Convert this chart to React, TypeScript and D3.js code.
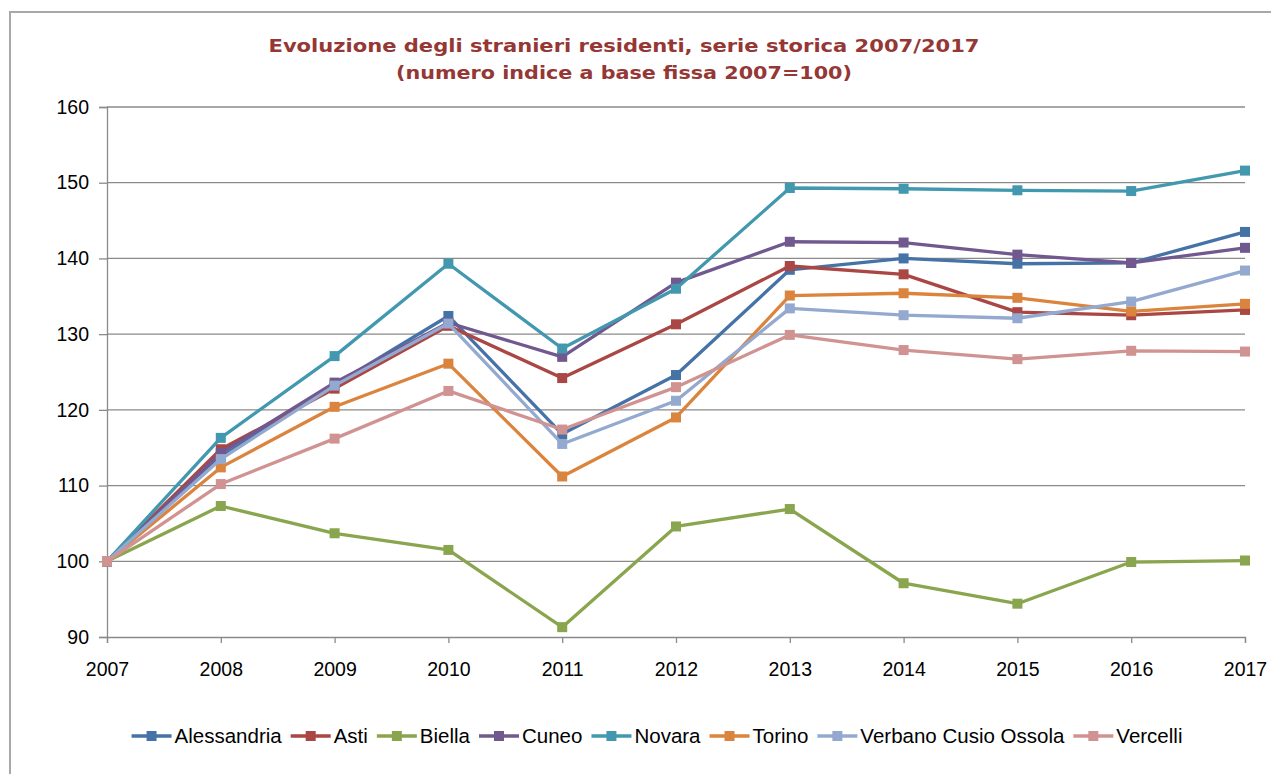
import { useEffect, useRef } from 'react'
import * as d3 from 'd3'

const years = [2007, 2008, 2009, 2010, 2011, 2012, 2013, 2014, 2015, 2016, 2017]
const yTicks = [90, 100, 110, 120, 130, 140, 150, 160]

const alessandria = [100, 113.8, 123.3, 132.4, 116.8, 124.6, 138.5, 140.0, 139.3, 139.4, 143.5]
const asti = [100, 114.8, 122.8, 131.1, 124.2, 131.3, 139.0, 137.9, 132.9, 132.5, 133.2]
const biella = [100, 107.3, 103.7, 101.5, 91.3, 104.6, 106.9, 97.1, 94.4, 99.9, 100.1]
const cuneo = [100, 114.3, 123.6, 131.5, 127.0, 136.8, 142.2, 142.1, 140.5, 139.4, 141.4]
const novara = [100, 116.3, 127.1, 139.3, 128.1, 136.0, 149.3, 149.2, 149.0, 148.9, 151.6]
const torino = [100, 112.4, 120.4, 126.1, 111.2, 119.0, 135.1, 135.4, 134.8, 133.0, 134.0]
const verbano = [100, 113.5, 123.2, 131.4, 115.5, 121.2, 133.4, 132.5, 132.1, 134.3, 138.4]
const vercelli = [100, 110.2, 116.2, 122.5, 117.4, 123.0, 129.9, 127.9, 126.7, 127.8, 127.7]

const seriesNames = ['Alessandria', 'Asti', 'Biella', 'Cuneo', 'Novara', 'Torino', 'Verbano Cusio Ossola', 'Vercelli']
const seriesValues = [alessandria, asti, biella, cuneo, novara, torino, verbano, vercelli]
const seriesColors = ['#4572A7', '#AA4643', '#89A54E', '#71588F', '#4198AF', '#DB843D', '#93A9CF', '#D19392']

const titleLines = [
  'Evoluzione degli stranieri residenti, serie storica 2007/2017',
  '(numero indice a base fissa 2007=100)',
]
const titleWidths = [711, 456]

// the svg is pinned to the page corner so its coordinates match the page
const width = 1271
const height = 774
const margin = { left: 107, right: 26, top: 107, bottom: 137 }
const labelFont = '"Liberation Sans", Arial, sans-serif'
const titleFont = '"DejaVu Sans", Verdana, sans-serif'

export default function App() {
  const svgRef = useRef<SVGSVGElement | null>(null)

  useEffect(() => {
    const svg = d3.select(svgRef.current)
    svg.selectAll('*').remove()

    const x = d3
      .scaleLinear()
      .domain([years[0], years[years.length - 1]])
      .range([margin.left, width - margin.right])
    const y = d3
      .scaleLinear()
      .domain([90, 160])
      .range([height - margin.bottom, margin.top])

    svg
      .append('rect')
      .attr('x', 10)
      .attr('y', 12)
      .attr('width', 1275)
      .attr('height', 800)
      .attr('fill', 'white')
      .attr('stroke', '#a8a8a8')
      .attr('stroke-width', 2)

    titleLines.forEach((lineText, index) => {
      svg
        .append('text')
        .attr('x', 624)
        .attr('y', 52 + index * 27)
        .attr('text-anchor', 'middle')
        .attr('font-family', titleFont)
        .attr('font-weight', 'bold')
        .attr('font-size', 17.5)
        .attr('fill', '#953735')
        .attr('textLength', titleWidths[index])
        .attr('lengthAdjust', 'spacingAndGlyphs')
        .text(lineText)
    })

    // gridlines
    svg
      .append('g')
      .selectAll('line')
      .data(yTicks.filter((tick) => tick !== 90))
      .join('line')
      .attr('x1', margin.left)
      .attr('x2', width - margin.right)
      .attr('y1', (tick) => y(tick))
      .attr('y2', (tick) => y(tick))
      .attr('stroke', '#8a8a8a')
      .attr('stroke-width', 1.3)

    const yAxis = svg
      .append('g')
      .attr('transform', `translate(${margin.left},0)`)
      .call(d3.axisLeft(y).tickValues(yTicks).tickSize(8).tickPadding(10).tickFormat(d3.format('d')))
    const xAxis = svg
      .append('g')
      .attr('transform', `translate(0,${height - margin.bottom})`)
      .call(d3.axisBottom(x).tickValues(years).tickSize(6).tickPadding(19).tickFormat(d3.format('d')))

    for (const axis of [yAxis, xAxis]) {
      axis.select('.domain').attr('stroke', '#8a8a8a').attr('stroke-width', 1.3)
      axis.selectAll('.tick line').attr('stroke', '#8a8a8a').attr('stroke-width', 1.3)
      axis
        .selectAll('.tick text')
        .attr('font-family', labelFont)
        .attr('font-size', 19.5)
        .attr('fill', '#000')
    }

    const lineGen = d3
      .line<number>()
      .x((_, index) => x(years[index]))
      .y((value) => y(value))

    seriesValues.forEach((values, seriesIndex) => {
      const color = seriesColors[seriesIndex]
      const group = svg.append('g')
      group
        .append('path')
        .attr('d', lineGen(values) ?? '')
        .attr('fill', 'none')
        .attr('stroke', color)
        .attr('stroke-width', 3.3)
        .attr('stroke-linejoin', 'round')
      group
        .selectAll('rect')
        .data(values)
        .join('rect')
        .attr('x', (_, index) => x(years[index]) - 5)
        .attr('y', (value) => y(value) - 5)
        .attr('width', 10)
        .attr('height', 10)
        .attr('fill', color)
    })

    // legend
    const legend = svg.append('g')
    const legendY = 736
    const markerWidth = 40
    const itemGap = 9
    let cursor = 0
    seriesNames.forEach((name, index) => {
      const color = seriesColors[index]
      const item = legend.append('g').attr('transform', `translate(${cursor},0)`)
      item
        .append('line')
        .attr('x1', 0)
        .attr('x2', markerWidth)
        .attr('y1', legendY)
        .attr('y2', legendY)
        .attr('stroke', color)
        .attr('stroke-width', 3.3)
      item
        .append('rect')
        .attr('x', markerWidth / 2 - 5)
        .attr('y', legendY - 5)
        .attr('width', 10)
        .attr('height', 10)
        .attr('fill', color)
      const label = item
        .append('text')
        .attr('x', markerWidth + 3)
        .attr('y', legendY + 7)
        .attr('font-family', labelFont)
        .attr('font-size', 20.5)
        .attr('fill', '#000')
        .text(name)
      const textWidth = (label.node() as SVGTextElement).getComputedTextLength()
      cursor += markerWidth + 3 + textWidth + itemGap
    })
    const legendWidth = cursor - itemGap
    legend.attr('transform', `translate(${657 - legendWidth / 2},0)`)
  }, [])

  return (
    <svg
      ref={svgRef}
      width={width}
      height={height}
      style={{ position: 'fixed', top: 0, left: 0, display: 'block', overflow: 'hidden' }}
    />
  )
}
